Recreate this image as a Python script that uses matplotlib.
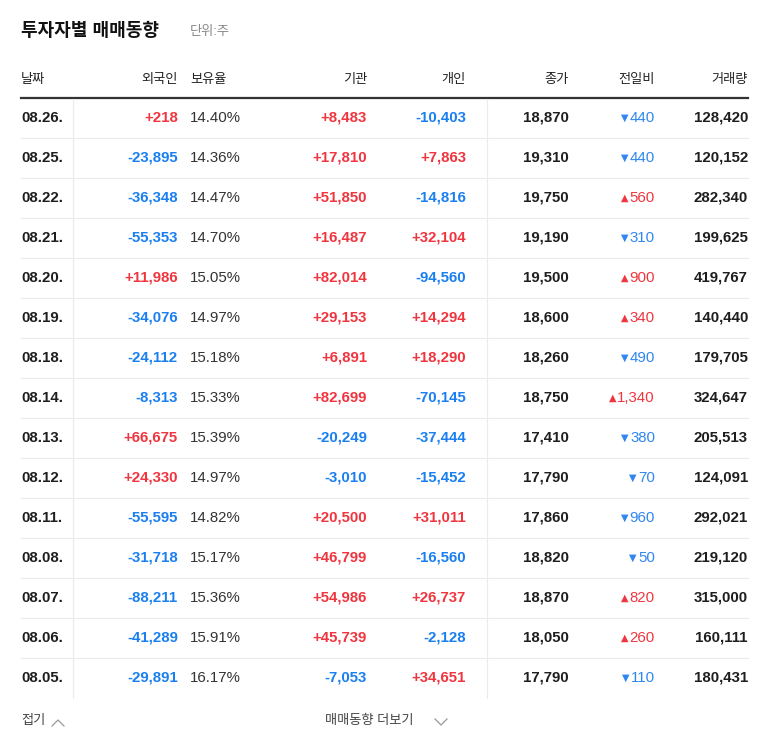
import matplotlib
matplotlib.use("Agg")
import matplotlib.pyplot as plt

dates = ["08.26.","08.25.","08.22.","08.21.","08.20.","08.19.","08.18.","08.14.","08.13.","08.12.","08.11.","08.08.","08.07.","08.06.","08.05."]
foreign = [218,-23895,-36348,-55353,11986,-34076,-24112,-8313,66675,24330,-55595,-31718,-88211,-41289,-29891]
foreign_ratio = ["14.40%","14.36%","14.47%","14.70%","15.05%","14.97%","15.18%","15.33%","15.39%","14.97%","14.82%","15.17%","15.36%","15.91%","16.17%"]
inst = [8483,17810,51850,16487,82014,29153,6891,82699,-20249,-3010,20500,46799,54986,45739,-7053]
indiv = [-10403,7863,-14816,32104,-94560,14294,18290,-70145,-37444,-15452,31011,-16560,26737,-2128,34651]
close = [18870,19310,19750,19190,19500,18600,18260,18750,17410,17790,17860,18820,18870,18050,17790]
change = [-440,-440,560,-310,900,340,-490,1340,-380,-70,-960,-50,820,260,-110]
volume = [128420,120152,282340,199625,419767,140440,179705,324647,205513,124091,292021,219120,315000,160111,180431]
headers = ["날짜","외국인","보유율","기관","개인","종가","전일비","거래량"]

FONT = ["Liberation Sans", "Noto Sans CJK KR", "Noto Sans CJK JP", "Noto Sans CJK SC", "DejaVu Sans"]
RED = "#f0353f"
BLUE = "#1a7ff0"
DARK = "#1e1e1e"

fig = plt.figure(figsize=(7.68, 7.49), dpi=100)
ax = fig.add_axes([0, 0, 1, 1])
ax.set_xlim(0, 768)
ax.set_ylim(749, 0)
ax.axis("off")

def t(x, y, s, ha="left", color=DARK, size=10.8, weight="normal"):
    ax.text(x, y, s, ha=ha, va="center", color=color, fontsize=size, fontweight=weight, family=FONT)

t(21, 31, "투자자별 매매동향", size=13, weight="bold", color="#111111")
t(190, 32, "단위:주", size=9.5, color="#888888")

hx = [(21,"left"),(178,"right"),(190,"left"),(367,"right"),(466,"right"),(569,"right"),(655,"right"),(748,"right")]
for (x, ha), h in zip(hx, headers):
    t(x, 80, h, ha=ha, size=9.5, color="#222222")

ax.plot([21, 748], [98, 98], color="#333333", lw=1.6)
n = len(dates)
y0, dy = 118, 40
for i in range(n - 1):
    yy = y0 + dy * i + dy / 2
    ax.plot([21, 748], [yy, yy], color="#ebebeb", lw=0.8)
ax.plot([73, 73], [99, y0 + dy * (n - 1) + 20], color="#ebebeb", lw=0.8)
ax.plot([487, 487], [99, y0 + dy * (n - 1) + 20], color="#ebebeb", lw=0.8)

def signed(v):
    return (f"+{v:,}" if v > 0 else f"-{abs(v):,}"), (RED if v > 0 else BLUE)

for i in range(n):
    y = y0 + dy * i
    t(21, y, dates[i], weight="bold")
    s, c = signed(foreign[i]); t(178, y, s, ha="right", color=c, weight="bold")
    t(190, y, foreign_ratio[i], color="#333333")
    s, c = signed(inst[i]); t(367, y, s, ha="right", color=c, weight="bold")
    s, c = signed(indiv[i]); t(466, y, s, ha="right", color=c, weight="bold")
    t(569, y, f"{close[i]:,}", ha="right", weight="bold")
    ch = change[i]
    col = RED if ch > 0 else "#2f86f0"
    num = f"{abs(ch):,}"
    txt = ax.text(655, y, num, ha="right", va="center", color=col, fontsize=10.8, family=FONT)
    ax.annotate("▲" if ch > 0 else "▼", xy=(0, 0.5), xycoords=txt, xytext=(-1, 0),
                textcoords="offset points", ha="right", va="center", color=col,
                fontsize=7, family="DejaVu Sans")
    t(748, y, f"{volume[i]:,}", ha="right", weight="bold")

t(21, 721, "접기", size=9.5, color="#444444")
ax.plot([52, 58, 64], [726, 720, 726], color="#999999", lw=0.9)
t(325, 721, "매매동향 더보기", size=9.5, color="#444444")
ax.plot([435, 441, 447], [719, 725, 719], color="#999999", lw=0.9)

fig.savefig("out.png", dpi=100, facecolor="white")
